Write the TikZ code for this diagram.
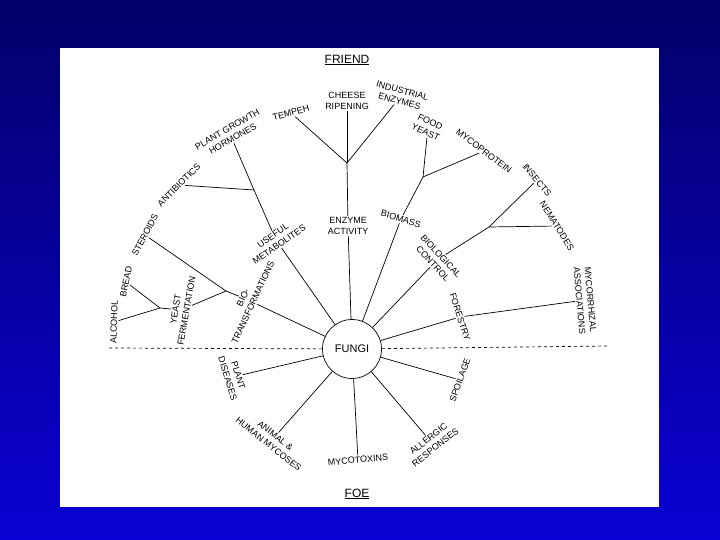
\documentclass[tikz,border=0pt]{standalone}
\usepackage{fontspec}
\setmainfont{Liberation Sans}
\definecolor{navytop}{RGB}{3,0,105}
\definecolor{bluemid}{RGB}{10,0,196}
\definecolor{bluebot}{RGB}{10,0,212}
\begin{document}
\begin{tikzpicture}[x=1pt, y=-1pt, line width=0.7pt,
        lbl/.style={font=\fontsize{9}{11}\selectfont, inner sep=1pt, align=center},
        head/.style={font=\fontsize{12}{12}\selectfont, inner sep=1pt}]
            \useasboundingbox (0,0) rectangle (720,540);
            \shade[top color=navytop, middle color=bluemid, bottom color=bluebot] (0,0) rectangle (720,540);
            \fill[white] (60,48) rectangle (659,507);

            % centre
            \node[draw, circle, minimum size=59pt, inner sep=0pt, font=\fontsize{11}{11}\selectfont] (fungi) at (352,349) {FUNGI};
            \node[head] (friend) at (347,60) {\underline{FRIEND}};
            \node[head] (foe) at (357,494) {\underline{FOE}};
            \coordinate (dl) at (107,348);
            \coordinate (dr) at (608,346);

            % friend, inner ring
            \node[lbl, rotate=80] (yeastferm) at (181,310) {YEAST\\FERMENTATION};
            \node[lbl, rotate=65] (biotrans) at (248,300) {BIO-\\TRANSFORMATIONS};
            \node[lbl, rotate=35] (useful) at (276,240) {USEFUL\\METABOLITES};
            \node[lbl] (enzyme) at (348,226) {ENZYME\\ACTIVITY};
            \node[lbl, rotate=-17] (biomass) at (401,219) {BIOMASS};
            \node[lbl, rotate=-47] (biocontrol) at (437,260) {BIOLOGICAL\\CONTROL};
            \node[lbl, rotate=-72] (forestry) at (460,317) {FORESTRY};

            % friend, outer ring
            \node[lbl, rotate=88] (alcohol) at (114,322) {ALCOHOL};
            \node[lbl, rotate=78] (bread) at (126,282) {BREAD};
            \node[lbl, rotate=62] (steroids) at (145,235) {STEROIDS};
            \node[lbl, rotate=45] (antibiotics) at (179,185) {ANTIBIOTICS};
            \node[lbl, rotate=30] (hormones) at (230,134) {PLANT GROWTH\\HORMONES};
            \node[lbl, rotate=15] (tempeh) at (291,113) {TEMPEH};
            \node[lbl] (cheese) at (347,101) {CHEESE\\RIPENING};
            \node[lbl, rotate=-15] (industrial) at (401,96) {INDUSTRIAL\\ENZYMES};
            \node[lbl, rotate=-25] (foodyeast) at (428,127) {FOOD\\YEAST};
            \node[lbl, rotate=-37] (mycoprotein) at (484,151) {MYCOPROTEIN};
            \node[lbl, rotate=-50] (insects) at (537,180) {INSECTS};
            \node[lbl, rotate=-58] (nematodes) at (557,226) {NEMATODES};
            \node[lbl, rotate=-85] (mycorrhizal) at (585,300) {MYCORRHIZAL\\ASSOCIATIONS};

            % foe
            \node[lbl, rotate=-73] (plantdis) at (233,377) {PLANT\\DISEASES};
            \node[lbl, rotate=-38] (animal) at (272,440) {ANIMAL \&\\HUMAN MYCOSES};
            \node[lbl, rotate=5] (mycotox) at (358,460) {MYCOTOXINS};
            \node[lbl, rotate=38] (allergic) at (432,443) {ALLERGIC\\RESPONSES};
            \node[lbl, rotate=70] (spoilage) at (460,380) {SPOILAGE};

            % branch points
            \coordinate (b1) at (347,163);
            \coordinate (b2) at (254,190);
            \coordinate (b3) at (226,291);
            \coordinate (b4) at (160,308);
            \coordinate (b5) at (489,227);
            \coordinate (b6) at (423,177);

            \draw[dashed] (fungi) -- (dl);
            \draw[dashed] (fungi) -- (dr);

            \draw (fungi) -- (enzyme);
            \draw (enzyme) -- (b1);
            \draw (b1) -- (tempeh);
            \draw (b1) -- (cheese);
            \draw (b1) -- (industrial);

            \draw (fungi) -- (useful);
            \draw (useful) -- (b2);
            \draw (b2) -- (antibiotics);
            \draw (b2) -- (hormones);

            \draw (fungi) -- (biotrans);
            \draw (biotrans) -- (b3);
            \draw (b3) -- (steroids);
            \draw (b3) -- (yeastferm);
            \draw (yeastferm) -- (b4);
            \draw (b4) -- (bread);
            \draw (b4) -- (alcohol);

            \draw (fungi) -- (biomass);
            \draw (biomass) -- (b6);
            \draw (b6) -- (foodyeast);
            \draw (b6) -- (mycoprotein);

            \draw (fungi) -- (biocontrol);
            \draw (biocontrol) -- (b5);
            \draw (b5) -- (insects);
            \draw (b5) -- (nematodes);

            \draw (fungi) -- (forestry);
            \draw (forestry) -- (mycorrhizal);

            \draw (fungi) -- (plantdis);
            \draw (fungi) -- (animal);
            \draw (fungi) -- (mycotox);
            \draw (fungi) -- (allergic);
            \draw (fungi) -- (spoilage);
        \end{tikzpicture}
\end{document}
